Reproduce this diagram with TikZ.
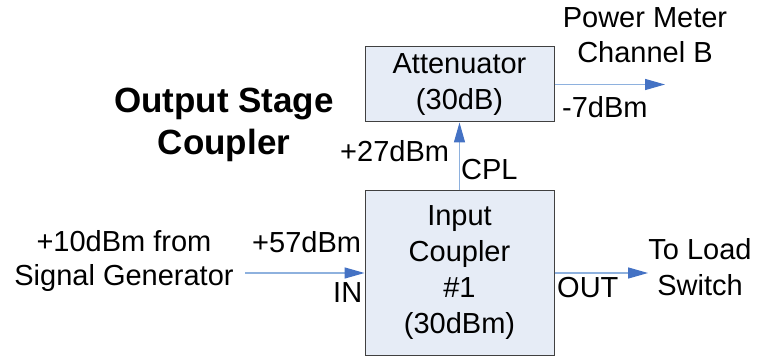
\documentclass[tikz,border=0pt]{standalone}
\usepackage{fontspec}
\setmainfont{Liberation Sans}
\usetikzlibrary{arrows.meta}
\definecolor{boxfill}{HTML}{E6ECF6}
\definecolor{boxline}{HTML}{404040}
\definecolor{wire}{HTML}{8EB1DE}
\definecolor{tip}{HTML}{4472C4}
\tikzset{
  blk/.style={draw=boxline, line width=1pt, fill=boxfill, align=center, inner sep=0pt,
    font=\fontsize{29}{36}\selectfont},
  wirearrow/.style={draw=wire, line width=1.3pt, -{Triangle[length=20pt,width=11pt,color=tip]}},
  lbl/.style={anchor=base, inner sep=0pt, font=\fontsize{29}{36}\selectfont},
  lblw/.style={anchor=base west, inner sep=0pt, font=\fontsize{29}{36}\selectfont},
  ttl/.style={anchor=base, inner sep=0pt, font=\fontsize{35}{42}\selectfont\bfseries}
}
\begin{document}
\begin{tikzpicture}[x=1pt,y=-1pt]
\useasboundingbox (0,0) rectangle (758,358);
% boxes
\node[blk, minimum width=189pt, minimum height=75pt] (att) at (459.5,84.5) {Attenuator\\(30dB)};
\node[blk, minimum width=189pt, minimum height=164pt] (inc) at (459.5,273) {Input\\Coupler\\\#1\\(30dBm)};
% free ends
\coordinate (pm) at (665,84.5);
\coordinate (sg) at (245,273);
\coordinate (ls) at (648,273);
% connectors
\draw[wirearrow] (inc.north) -- (att.south);
\draw[wirearrow] (att.east) -- (pm);
\draw[wirearrow] (sg) -- (inc.west);
\draw[wirearrow] (inc.east) -- (ls);
% titles
\node[ttl] (t1) at (224,113) {Output Stage};
\node[ttl] (t2) at (224,155) {Coupler};
% labels
\node[lbl] (pm1) at (645,28) {Power Meter};
\node[lbl] (pm2) at (645,63) {Channel B};
\node[lblw] (m7) at (562,118) {-7dBm};
\node[lblw] (p27) at (340,162) {+27dBm};
\node[lblw] (cpl) at (461,180) {CPL};
\node[lbl] (sg1) at (124,252) {+10dBm from};
\node[lbl] (sg2) at (124,285) {Signal Generator};
\node[lblw] (p57) at (252,253) {+57dBm};
\node[lblw] (in) at (333,302) {IN};
\node[lblw] (out) at (557,298) {OUT};
\node[lbl] (ld1) at (700,260) {To Load};
\node[lbl] (ld2) at (700,295) {Switch};
\end{tikzpicture}
\end{document}
